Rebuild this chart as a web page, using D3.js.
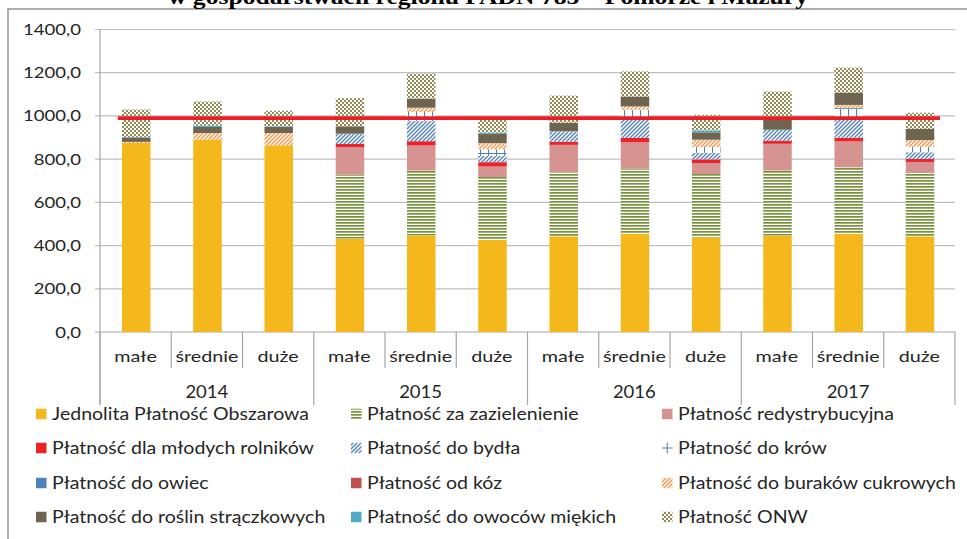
<!DOCTYPE html>
<html><head><meta charset="utf-8">
<script src="https://cdn.jsdelivr.net/npm/d3@7"></script>
<style>body{margin:0;background:#fff;overflow:hidden}svg{display:block}</style>
</head><body>
<svg id="c" width="967" height="539"></svg>
<script>
// ---------- DATA ----------
const years = ["2014", "2015", "2016", "2017"];
const sizes = ["małe", "średnie", "duże"];
const seriesNames = [
  "Jednolita Płatność Obszarowa", "Płatność za zazielenienie", "Płatność redystrybucyjna",
  "Płatność dla młodych rolników", "Płatność do bydła", "Płatność do krów",
  "Płatność do owiec", "Płatność od kóz", "Płatność do buraków cukrowych",
  "Płatność do roślin strączkowych", "Płatność do owoców miękich", "Płatność ONW"
];
const jpo        = [875, 890, 864, 432, 447, 427, 443, 455, 438, 446, 455, 443];
const greening   = [0, 0, 0, 296, 300, 290, 296, 301, 293, 301, 307, 293];
const redistrib  = [0, 0, 0, 128, 116, 49, 127, 122, 51, 124, 120, 51];
const youngFarm  = [0, 0, 0, 14, 20, 20, 15, 20, 17, 15, 17, 14];
const cattle     = [0, 0, 0, 48, 93, 29, 48, 85, 29, 50, 83, 31];
const cows       = [0, 0, 0, 0, 42, 31, 0, 46, 28, 0, 54, 25];
const sheep      = [0, 0, 0, 0, 0, 0, 0, 0, 0, 0, 0, 0];
const goats      = [0, 0, 0, 0, 0, 0, 0, 0, 0, 0, 0, 0];
const sugarBeet  = [5, 31, 57, 0, 20, 28, 0, 15, 34, 0, 15, 31];
const legumes    = [20, 28, 28, 34, 42, 43, 39, 46, 34, 51, 57, 52];
const softFruit  = [2, 7, 3, 0, 0, 6, 0, 0, 9, 0, 0, 0];
const onw        = [128, 111, 72, 130, 116, 59, 126, 116, 72, 126, 116, 75];
const refValue   = 990;
const yTicks     = [0, 200, 400, 600, 800, 1000, 1200, 1400];
const titleText  = "w gospodarstwach regionu FADN 785 – Pomorze i Mazury";

const seriesValues = [jpo, greening, redistrib, youngFarm, cattle, cows, sheep, goats, sugarBeet, legumes, softFruit, onw];

// ---------- SETUP ----------
const W = 967, H = 539;
const svg = d3.select("#c");
const defs = svg.append("defs");
function pat(id, w, h, draw) {
  const p = defs.append("pattern").attr("id", id).attr("patternUnits", "userSpaceOnUse")
    .attr("width", w).attr("height", h);
  p.append("rect").attr("width", w).attr("height", h).attr("fill", "#fff");
  draw(p);
}
pat("pGreen", 6, 3, p => p.append("rect").attr("width", 6).attr("height", 1.7).attr("fill", "#76923C"));
pat("pCattle", 4, 4, p => p.append("path").attr("d", "M-1,1 L1,-1 M0,4 L4,0 M3,5 L5,3")
  .attr("stroke", "#4F81BD").attr("stroke-width", 1.3));
pat("pCows", 8, 9, p => p.append("path").attr("d", "M0.5,0 V9 M0,0.5 H8")
  .attr("stroke", "#4F81BD").attr("stroke-width", 1.1));
pat("pBeet", 4, 4, p => p.append("path").attr("d", "M-1,1 L1,-1 M0,4 L4,0 M3,5 L5,3")
  .attr("stroke", "#F79646").attr("stroke-width", 1.4));
pat("pOnw", 4, 4, p => {
  p.append("rect").attr("width", 2).attr("height", 2).attr("fill", "#948A54");
  p.append("rect").attr("x", 2).attr("y", 2).attr("width", 2).attr("height", 2).attr("fill", "#948A54");
});

const fills = ["#F5B81C", "url(#pGreen)", "#D59391", "#EE2229", "url(#pCattle)", "url(#pCows)",
  "#4F81BD", "#C0504D", "url(#pBeet)", "#6F6450", "#4BACC6", "url(#pOnw)"];

const fontMain = "Lato, 'Open Sans', sans-serif";
const textCol = "#262626";

function fit(sel, k) {
  sel.each(function () {
    const w = this.getComputedTextLength();
    d3.select(this).attr("textLength", w * k).attr("lengthAdjust", "spacingAndGlyphs");
  });
}
function factorFor(text, size, family, weight, target) {
  const t = svg.append("text").attr("font-size", size).attr("font-family", family)
    .attr("font-weight", weight || "normal").text(text);
  const w = t.node().getComputedTextLength();
  t.remove();
  return target / w;
}

// outer frame
svg.append("rect").attr("x", 8).attr("y", 9).attr("width", W + 20).attr("height", H + 20)
  .attr("fill", "none").attr("stroke", "#8c8c8c").attr("stroke-width", 1.4);

// title (clipped at top)
const tk = factorFor(titleText, 21, "'Liberation Serif', serif", "bold", 640);
svg.append("text").attr("x", 488).attr("y", 4).attr("text-anchor", "middle")
  .attr("font-family", "'Liberation Serif', serif").attr("font-weight", "bold").attr("font-size", 21)
  .attr("fill", "#000").text(titleText).call(fit, tk);

// ---------- SCALES ----------
const pL = 100, pR = 955, pT = 29.5, pB = 332;
const cats = [];
years.forEach(yr => sizes.forEach(s => cats.push({ year: yr, size: s })));
const x = d3.scaleBand().domain(d3.range(cats.length)).range([pL, pR]).paddingInner(0).paddingOuter(0);
const bw = x.bandwidth();
const y = d3.scaleLinear().domain([0, 1400]).range([pB, pT]);

// gridlines
const g = svg.append("g");
g.selectAll("line.grid").data(yTicks).join("line")
  .attr("x1", pL - 5).attr("x2", pR).attr("y1", d => y(d)).attr("y2", d => y(d))
  .attr("stroke", d => d === 0 ? "#a6a6a6" : "#bfbfbf").attr("stroke-width", 1.2);
// y axis line
g.append("line").attr("x1", pL).attr("x2", pL).attr("y1", pT).attr("y2", 405)
  .attr("stroke", "#a6a6a6").attr("stroke-width", 1.2);

// y labels
const yk = factorFor("1400,0", 15.5, fontMain, "normal", 58);
g.selectAll("text.yl").data(yTicks).join("text")
  .attr("x", 81).attr("y", d => y(d) + 5.5).attr("text-anchor", "end")
  .attr("font-family", fontMain).attr("font-size", 15.5).attr("fill", textCol)
  .text(d => d3.format(".1f")(d).replace(".", ",")).call(fit, yk);

// ---------- BARS ----------
const rows = cats.map((c, i) => {
  const r = { i };
  seriesNames.forEach((n, j) => r[n] = seriesValues[j][i]);
  return r;
});
const stack = d3.stack().keys(seriesNames)(rows);
const barW = bw * 0.4;
svg.append("g").selectAll("g").data(stack).join("g")
  .attr("fill", (d, j) => fills[j])
  .selectAll("rect").data(d => d.filter(v => v[1] - v[0] > 0)).join("rect")
  .attr("x", d => x(d.data.i) + (bw - barW) / 2 + 0.6)
  .attr("width", barW)
  .attr("y", d => y(d[1]))
  .attr("height", d => y(d[0]) - y(d[1]));

// reference line
svg.append("line")
  .attr("x1", x(0) + bw * 0.25).attr("x2", x(cats.length - 1) + bw * 0.79)
  .attr("y1", y(refValue)).attr("y2", y(refValue))
  .attr("stroke", "#EE1C25").attr("stroke-width", 3.8);

// ---------- CATEGORY AXIS ----------
const ax = svg.append("g");
d3.range(cats.length + 1).forEach(k => {
  const xx = k === cats.length ? pR : x(k);
  ax.append("line").attr("x1", xx).attr("x2", xx).attr("y1", pB)
    .attr("y2", k % 3 === 0 ? 405 : 368).attr("stroke", "#a6a6a6").attr("stroke-width", 1.2);
});
const ck = factorFor("średnie", 16, fontMain, "normal", 63);
ax.selectAll("text.cat").data(cats).join("text")
  .attr("x", (d, i) => x(i) + bw / 2).attr("y", 361.5).attr("text-anchor", "middle")
  .attr("font-family", fontMain).attr("font-size", 16).attr("fill", textCol)
  .text(d => d.size).call(fit, ck);
const yrk = factorFor("2014", 17, fontMain, "normal", 43);
ax.selectAll("text.yr").data(years).join("text")
  .attr("x", (d, i) => x(i * 3) + bw * 1.5).attr("y", 397.5).attr("text-anchor", "middle")
  .attr("font-family", fontMain).attr("font-size", 17).attr("fill", textCol)
  .text(d => d).call(fit, yrk);

// ---------- LEGEND ----------
const colX = [36, 351, 662];
const rowY = [414, 448, 483, 517];
const lk = factorFor("Jednolita Płatność Obszarowa", 17.5, fontMain, "normal", 257);
const lg = svg.append("g");
seriesNames.forEach((n, j) => {
  const cx = colX[j % 3], cy = rowY[Math.floor(j / 3)];
  if (n === "Płatność do krów") {
    lg.append("path").attr("d", `M${cx},${cy} H${cx + 10.5} M${cx + 5.25},${cy - 5.25} V${cy + 5.25}`)
      .attr("stroke", "#4F81BD").attr("stroke-width", 1.1).attr("fill", "none");
  } else {
    lg.append("rect").attr("x", cx).attr("y", cy - 5.25).attr("width", 10.5).attr("height", 10.5)
      .attr("fill", fills[j]);
  }
  lg.append("text").attr("x", cx + 16).attr("y", cy + 6)
    .attr("font-family", fontMain).attr("font-size", 17.5).attr("fill", textCol)
    .text(n).call(fit, lk);
});
</script>
</body></html>
